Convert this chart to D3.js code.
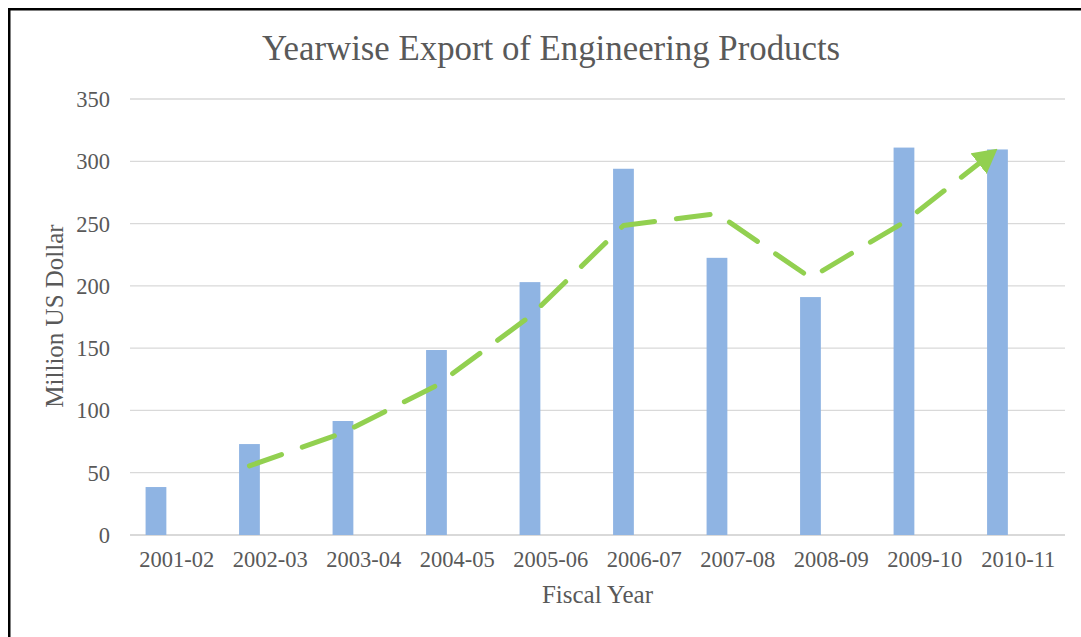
<!DOCTYPE html>
<html>
<head>
<meta charset="utf-8">
<script src="https://cdn.jsdelivr.net/npm/d3@7"></script>
<style>
	body { margin: 0; background: #fff; }
	text { font-family: "Liberation Serif", "Times New Roman", serif; fill: #595959; }
</style>
</head>
<body>
<svg id="chart" width="1081" height="637"></svg>
<script>
var years = ["2001-02", "2002-03", "2003-04", "2004-05", "2005-06",
	"2006-07", "2007-08", "2008-09", "2009-10", "2010-11"];
var exports = [38.5, 73, 91.5, 148.5, 203, 294, 222.5, 191, 311, 309.5];
// 2-period moving average trendline
var trend = [null, 55.5, 82, 120, 175.5, 248.5, 258, 206.5, 251, 310];
var yTicks = [0, 50, 100, 150, 200, 250, 300, 350];

var svg = d3.select("#chart");

var x = d3.scaleBand()
		.domain(years)
		.range([130, 1065]);

var y = d3.scaleLinear()
		.domain([0, 350])
		.range([535, 99]);

// excel style cluster: 3 series slots, gap width 150%
var barW = x.bandwidth() / 4.5,
	barOff = barW * 0.75;

// frame
svg.append("rect")
	.attr("x", 9.25)
	.attr("y", 9.25)
	.attr("width", 1200)
	.attr("height", 800)
	.attr("fill", "none")
	.attr("stroke", "#000")
	.attr("stroke-width", 2.5);

// grid
svg.append("g")
	.selectAll("line")
	.data(yTicks)
	.enter()
	.append("line")
	.attr("x1", 130)
	.attr("x2", 1065)
	.attr("y1", function(d) { return y(d); })
	.attr("y2", function(d) { return y(d); })
	.attr("stroke", "#d9d9d9")
	.attr("stroke-width", function(d) { return d === 0 ? 2 : 1.3; });

// y axis labels
svg.append("g")
	.selectAll("text")
	.data(yTicks)
	.enter()
	.append("text")
	.attr("x", 110)
	.attr("y", function(d) { return y(d) + 8; })
	.attr("text-anchor", "end")
	.attr("font-size", "22.5px")
	.text(function(d) { return d; });

// bars
svg.append("g")
	.selectAll("rect")
	.data(exports)
	.enter()
	.append("rect")
	.attr("x", function(d, i) { return x(years[i]) + barOff; })
	.attr("y", function(d) { return y(d); })
	.attr("width", barW)
	.attr("height", function(d) { return y(0) - y(d); })
	.attr("fill", "#8fb4e3");

// x labels
svg.append("g")
	.selectAll("text")
	.data(years)
	.enter()
	.append("text")
	.attr("x", function(d) { return x(d) + x.bandwidth() / 2; })
	.attr("y", 567)
	.attr("text-anchor", "middle")
	.attr("font-size", "22.5px")
	.text(function(d) { return d; });

// arrow head
svg.append("defs")
	.append("marker")
	.attr("id", "arrow")
	.attr("markerUnits", "userSpaceOnUse")
	.attr("viewBox", "0 0 24 26")
	.attr("refX", 24)
	.attr("refY", 13)
	.attr("markerWidth", 24)
	.attr("markerHeight", 26)
	.attr("orient", "auto")
	.append("path")
	.attr("d", "M0,0L24,13L0,26Z")
	.attr("fill", "#92d050");

var line = d3.line()
		.defined(function(d) { return d != null; })
		.x(function(d, i) { return x(years[i]) + barOff + barW / 2; })
		.y(function(d) { return y(d); });

svg.append("path")
	.datum(trend)
	.attr("d", line)
	.attr("fill", "none")
	.attr("stroke", "#92d050")
	.attr("stroke-width", 5)
	.attr("stroke-dasharray", "34 22")
	.attr("stroke-linecap", "round")
	.attr("stroke-linejoin", "round")
	.attr("marker-end", "url(#arrow)");

// titles
svg.append("text")
	.attr("x", 551)
	.attr("y", 60)
	.attr("text-anchor", "middle")
	.attr("font-size", "34.8px")
	.text("Yearwise Export of Engineering Products");

svg.append("text")
	.attr("x", 597.5)
	.attr("y", 603)
	.attr("text-anchor", "middle")
	.attr("font-size", "25px")
	.text("Fiscal Year");

svg.append("text")
	.attr("transform", "translate(63,316) rotate(-90)")
	.attr("text-anchor", "middle")
	.attr("font-size", "25px")
	.text("Million US Dollar");
</script>
</body>
</html>
